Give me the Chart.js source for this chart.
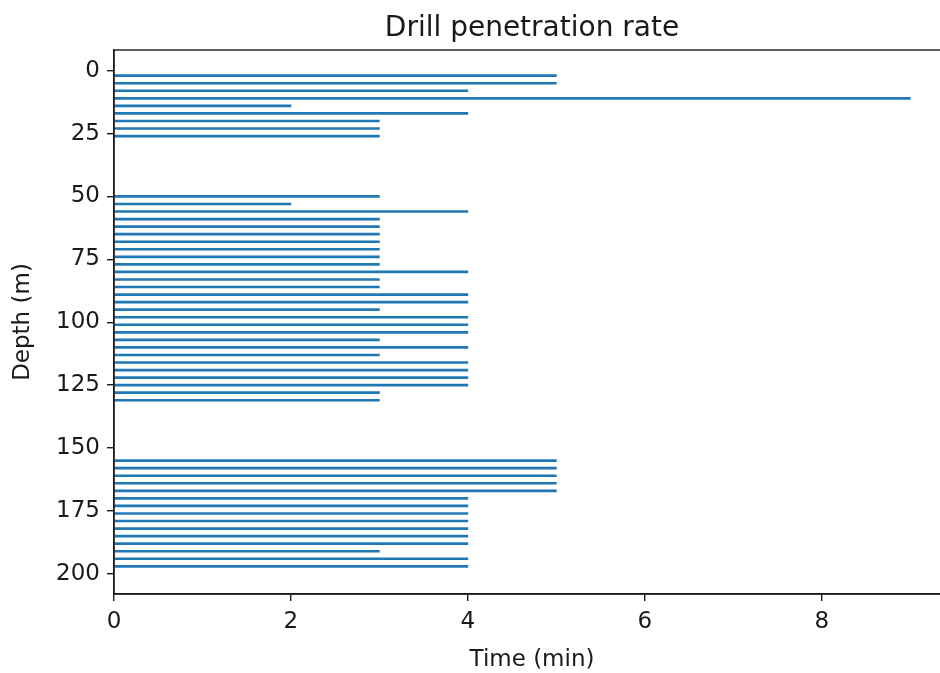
<!DOCTYPE html>
<html>
<head>
<meta charset="utf-8">
<script src="https://cdn.jsdelivr.net/npm/chart.js@4"></script>
<style>
  html, body { margin: 0; padding: 0; background: #fff; overflow: hidden; }
  #wrap { width: 952px; height: 673px; position: relative; }
</style>
</head>
<body>
<div id="wrap"><canvas id="drillChart"></canvas></div>
<script>
// ── Data ──
const depthM = [
    2, 5, 8, 11, 14, 17, 20, 23, 26,
    50, 53, 56, 59, 62, 65, 68, 71, 74, 77, 80, 83, 86, 89, 92, 95, 98,
    101, 104, 107, 110, 113, 116, 119, 122, 125, 128, 131,
    155, 158, 161, 164, 167, 170, 173, 176, 179, 182, 185, 188, 191, 194, 197
];
const timeMin = [
    5, 5, 4, 9, 2, 4, 3, 3, 3,
    3, 2, 4, 3, 3, 3, 3, 3, 3, 3, 4, 3, 3, 4, 4, 3, 4,
    4, 4, 3, 4, 3, 4, 4, 4, 4, 3, 3,
    5, 5, 5, 5, 5, 4, 4, 4, 4, 4, 4, 4, 3, 4, 4
];
const depthTicks = [0, 25, 50, 75, 100, 125, 150, 175, 200];
const timeTicks = [0, 2, 4, 6, 8];

const FONT = '"DejaVu Sans", sans-serif';
const AXIS_W = 1.4;

const ctx = document.getElementById('drillChart').getContext('2d');

// draw the top/right spines as a box round the plot area
const frame = {
    id: 'frame',
    afterDraw(chart) {
        const a = chart.chartArea;
        const c = chart.ctx;
        c.save();
        c.strokeStyle = '#1a1a1a';
        c.lineWidth = AXIS_W;
        c.strokeRect(a.left, a.top, a.right - a.left, a.bottom - a.top);
        c.restore();
    }
};

new Chart(ctx, {
    type: 'bar',
    data: {
        datasets: [{
            data: depthM.map((d, i) => ({ x: timeMin[i], y: d })),
            backgroundColor: '#1f77b4',
            borderWidth: 0,
            barThickness: 2
        }]
    },
    options: {
        indexAxis: 'y',
        responsive: true,
        maintainAspectRatio: false,
        animation: false,
        layout: { padding: { top: 0, left: 0, right: 2, bottom: 0 } },
        plugins: {
            legend: { display: false },
            tooltip: { enabled: false },
            title: {
                display: true,
                text: 'Drill penetration rate',
                fullSize: false,
                color: '#1a1a1a',
                font: { family: FONT, size: 28, weight: 'normal' },
                padding: { top: 12, bottom: 4.4 }
            }
        },
        scales: {
            x: {
                type: 'linear',
                min: 0,
                max: 9.45,
                offset: false,
                afterBuildTicks: s => { s.ticks = timeTicks.map(v => ({ value: v })); },
                afterFit: s => { s.height = 79; },
                ticks: { color: '#1a1a1a', font: { family: FONT, size: 23 }, padding: 7, maxRotation: 0 },
                grid: { drawOnChartArea: false, offset: false, color: '#1a1a1a', lineWidth: AXIS_W, tickLength: 7 },
                border: { display: true, color: '#1a1a1a', width: AXIS_W },
                title: {
                    display: true,
                    text: 'Time (min)',
                    color: '#1a1a1a',
                    font: { family: FONT, size: 23 },
                    padding: { top: 0, bottom: -1 }
                }
            },
            y: {
                type: 'linear',
                reverse: true,
                min: -8.2,
                max: 208,
                offset: false,
                afterBuildTicks: s => { s.ticks = depthTicks.map(v => ({ value: v })); },
                afterFit: s => { s.width = 114; },
                ticks: { color: '#1a1a1a', font: { family: FONT, size: 23 }, padding: 7 },
                grid: { drawOnChartArea: false, offset: false, color: '#1a1a1a', lineWidth: AXIS_W, tickLength: 7 },
                border: { display: true, color: '#1a1a1a', width: AXIS_W },
                title: {
                    display: true,
                    text: 'Depth (m)',
                    color: '#1a1a1a',
                    font: { family: FONT, size: 23 },
                    padding: { top: 9, bottom: 0 }
                }
            }
        }
    },
    plugins: [frame]
});
</script>
</body>
</html>
